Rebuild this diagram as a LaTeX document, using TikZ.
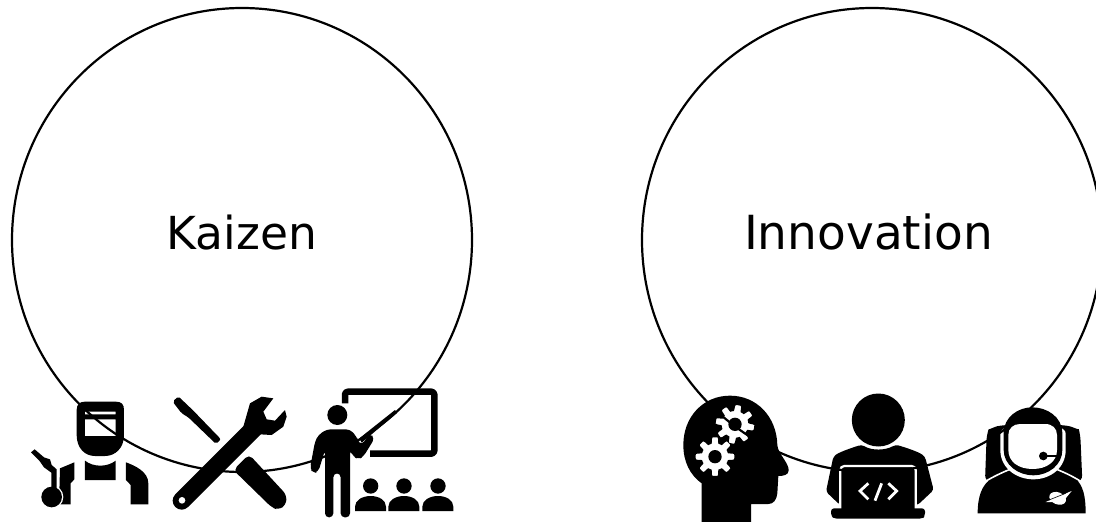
\documentclass[tikz,border=0pt]{standalone}
\usepackage{fontspec}
\setmainfont{DejaVu Sans}
\tikzset{
  ring/.style={draw=black,line width=2.2pt},
  label/.style={inner sep=0pt,anchor=base,text=black},
  ink/.style={fill=black,draw=none},
  paper/.style={fill=white,draw=none},
  zoomed/.style 2 args={shift={(#1pt,-#2pt)},x=0.33333pt,y=-0.33333pt},
}
\newcommand{\gearat}[3]{plot[domain=0:360,samples=145,smooth] ({#1+(49+9*min(1,max(-1,3*cos(8*(\x-#3)))))*cos(\x)},{#2+(49+9*min(1,max(-1,3*cos(8*(\x-#3)))))*sin(\x)}) -- cycle}
\begin{document}
\begin{tikzpicture}[x=1pt,y=-1pt]
\useasboundingbox (0,0) rectangle (1096,522);
\fill[white] (0,0) rectangle (1096,522);

% Welder and torch
\begin{scope}[zoomed={20}{370}]
  \fill[ink,even odd rule] (170,120) .. controls (170,102) and (180,95) .. (195,95) -- (287,95) .. controls (304,95) and (312,102) .. (312,120) -- (312,195) .. controls (312,235) and (285,258) .. (255,258) -- (225,258) .. controls (195,258) and (170,235) .. (170,195) -- cycle
    (195,148) rectangle (287,198) (195,125) rectangle (287,133);
  \fill[ink] (195,272) .. controls (220,292) and (262,292) .. (287,272) -- (287,330) -- (195,330) -- cycle;
  \fill[ink] (163,277) -- (120,295) -- (117,403) -- (152,403) -- (152,340) -- (163,328) -- cycle;
  \fill[ink] (318,277) .. controls (345,287) and (385,305) .. (385,340) -- (385,403) -- (332,403) -- (332,345) -- (318,330) -- cycle;
  \fill[paper] (95,381) circle (35);
  \fill[ink] (95,381) circle (31);
  \fill[ink] (33,247) -- (44,238) -- (72,262) -- (90,268) -- (95,285) -- (110,298) -- (110,358) -- (94,358) -- (94,308) -- (72,292) -- (58,272) -- cycle;
\end{scope}

% Screwdriver and wrench
\begin{scope}[zoomed={20}{370}]
  \fill[ink,rounded corners=2pt] (458,95) -- (475,79) -- (520,122) -- (603,208) -- (588,222) -- (505,142) -- (485,130) -- cycle;
  \draw[line width=18pt,line cap=round,black] (485,392) -- (715,162);
  \fill[ink] (690,100) -- (725,80) -- (760,85) -- (730,125) -- (740,148) -- (765,152) -- (795,120) -- (800,140) -- (790,170) -- (755,195) -- (720,193) -- (670,170) -- cycle;
  \fill[paper] (486,391) circle (10);
\end{scope}
\begin{scope}[zoomed={250}{370}]
  \fill[ink,rounded corners=5pt] (-50,300) -- (-3,253) -- (110,375) -- (108,405) -- (85,420) -- (65,412) -- cycle;
  % Teacher
  \draw[line width=6.5pt,black,line join=round,rounded corners=3pt] (285,100) -- (285,65) -- (553,65) -- (553,251) -- (360,251);
  \fill[ink] (262,135) circle (30);
  \fill[ink,rounded corners=4pt] (230,178) -- (205,195) -- (195,215) -- (180,295) -- (190,310) -- (205,305) -- (225,240) -- (225,442) -- (250,442) -- (250,310) -- (272,310) -- (272,442) -- (300,442) -- (300,240) -- (310,260) -- (325,268) -- (340,260) -- (374,205) -- (360,190) -- (335,225) -- (325,215) -- (320,200) -- (300,178) -- cycle;
  \fill[ink] (328,205) -- (435,120) -- (442,128) -- (335,218) -- cycle;
  \foreach \d in {0,100,202}{
    \fill[ink] (362+\d,348) circle (23);
    \fill[ink] (315+\d,423) -- (315+\d,410) .. controls (315+\d,390) and (338+\d,378) .. (362+\d,378) .. controls (386+\d,378) and (408+\d,390) .. (408+\d,410) -- (408+\d,423) -- cycle;
  }
\end{scope}

% Head with gears
\begin{scope}[zoomed={670}{380}]
  \fill[ink,even odd rule] (95,426) -- (95,310) .. controls (60,285) and (40,245) .. (40,195) .. controls (40,110) and (100,47) .. (180,47) .. controls (260,47) and (320,110) .. (322,195) .. controls (323,220) and (358,250) .. (356,272) .. controls (355,285) and (340,288) .. (325,288) -- (322,340) .. controls (320,360) and (310,372) .. (295,372) -- (243,372) -- (243,426) -- cycle
   \gearat{195}{133}{10} \gearat{135}{230}{0};
  \fill[ink] (195,133) circle (20) (135,230) circle (20);
\end{scope}

% Programmer with laptop
\begin{scope}[zoomed={825}{440}]
  \fill[ink] (160,-60) circle (79.5);
  \fill[ink,rounded corners=3pt] (25,50) .. controls (45,35) and (85,22) .. (110,14) .. controls (140,32) and (180,32) .. (212,14) .. controls (240,22) and (280,35) .. (300,50) -- (326,150) -- (278,195) -- (45,195) -- (3,155) -- cycle;
  \fill[ink] (45,75) rectangle (272,210);
  \draw[white,line width=2.2pt,rounded corners=4pt] (46,208) -- (46,78) -- (272,78) -- (272,208);
  \fill[ink,rounded corners=3pt] (18,205) -- (18,228) -- (28,236) -- (292,236) -- (300,228) -- (300,205) -- cycle;
  \draw[white,line width=2.8pt] (130,130) -- (105,153) -- (130,178) (170,130) -- (150,182) (190,130) -- (215,153) -- (190,178);
\end{scope}

% Astronaut
\begin{scope}[zoomed={975}{400}]
  \fill[ink,rounded corners=6pt] (30,245) -- (35,105) .. controls (40,90) and (60,80) .. (85,75) -- (265,75) .. controls (290,80) and (312,90) .. (316,105) -- (322,245) -- cycle;
  \fill[ink] (8,340) .. controls (8,290) and (20,255) .. (50,235) -- (105,205) -- (245,205) -- (300,235) .. controls (325,255) and (332,290) .. (332,340) -- cycle;
  \fill[paper] (76,100) .. controls (76,60) and (272,60) .. (272,100) -- (272,150) .. controls (272,205) and (225,238) .. (175,238) .. controls (125,238) and (76,205) .. (76,150) -- cycle;
  \draw[white,line width=1.6pt] (22,250) .. controls (50,232) and (80,218) .. (105,208) (245,208) .. controls (270,218) and (300,232) .. (326,250);
  \fill[ink] (86,100) .. controls (86,50) and (130,22) .. (172,22) .. controls (215,22) and (262,50) .. (262,100) -- (262,150) .. controls (262,195) and (220,226) .. (175,226) .. controls (130,226) and (86,195) .. (86,150) -- cycle;
  \fill[paper] (100,105) .. controls (100,85) and (115,72) .. (135,72) -- (210,72) .. controls (232,72) and (246,85) .. (246,105) -- (246,150) .. controls (246,185) and (215,207) .. (173,207) .. controls (130,207) and (100,185) .. (100,150) -- cycle;
  \fill[ink] (205,168) circle (13);
  \draw[black,line width=1.4pt] (205,168) -- (246,168);
  \fill[paper,rotate around={-22:(248,295)}] (248,295) ellipse (26 and 18);
  \fill[paper] (212,306) -- (290,273) -- (268,300) -- (230,306) -- cycle;
  \draw[black,line width=0.6pt] (222,300) -- (272,280);
\end{scope}

\node[label,font=\fontsize{45.5}{50}\selectfont] (kaizen) at (242,249) {Kaizen};
\node[label,font=\fontsize{47}{50}\selectfont] (innovation) at (868.5,249) {Innovation};

\begin{scope}
  \clip (0,0) rectangle (1096,522);
  \draw[ring] (242,240) ellipse (230 and 232);
  \draw[ring] (872,240) ellipse (230 and 232);
\end{scope}
\end{tikzpicture}
\end{document}
